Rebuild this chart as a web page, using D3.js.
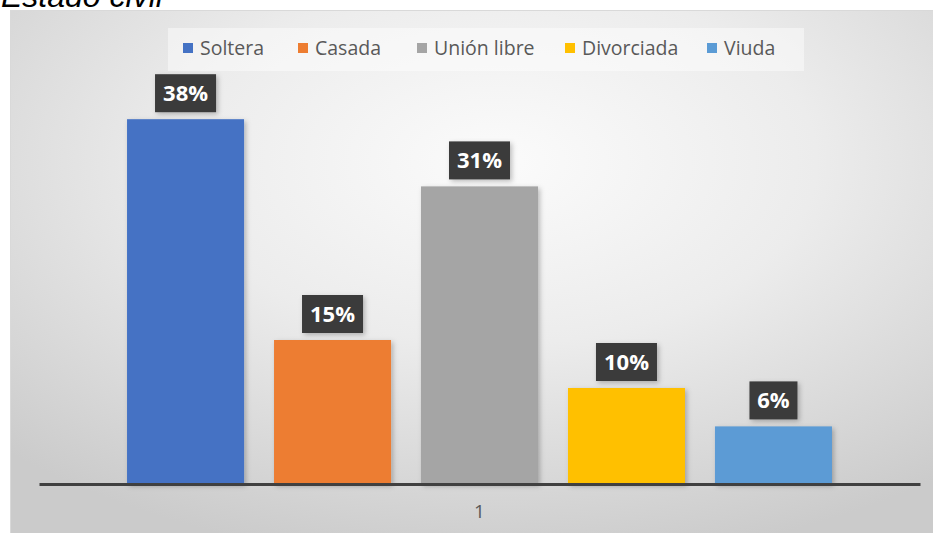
<!DOCTYPE html>
<html>
<head>
<meta charset="utf-8">
<script src="https://cdn.jsdelivr.net/npm/d3@7"></script>
<style>
  html, body { margin: 0; padding: 0; background: #ffffff; }
  svg { display: block; }
</style>
</head>
<body>
<svg id="chart" width="933" height="533"></svg>
<script>
// Estado civil — share of respondents by marital status
const categories = ["Soltera", "Casada", "Unión libre", "Divorciada", "Viuda"];
const values = [38, 15, 31, 10, 6];
const colors = ["#4472C4", "#ED7D31", "#A5A5A5", "#FFC000", "#5B9BD5"];
const axisLabels = ["1"];

const svg = d3.select("#chart");
const defs = svg.append("defs");

// soft radial backdrop for the plot frame
const grad = defs.append("radialGradient")
  .attr("id", "bg").attr("cx", "52%").attr("cy", "28%").attr("r", "75%");
grad.append("stop").attr("offset", "0%").attr("stop-color", "#fbfbfb");
grad.append("stop").attr("offset", "45%").attr("stop-color", "#ececec");
grad.append("stop").attr("offset", "100%").attr("stop-color", "#cbcbcb");

const shadow = defs.append("filter").attr("id", "shadow")
  .attr("x", "-20%").attr("y", "-20%").attr("width", "140%").attr("height", "140%");
shadow.append("feDropShadow").attr("dx", 2).attr("dy", 2).attr("stdDeviation", 2.5)
  .attr("flood-color", "#000").attr("flood-opacity", 0.25);

// title (partly above the page top)
svg.append("text")
  .attr("x", 1).attr("y", 7)
  .attr("font-family", "Liberation Sans, Arial, sans-serif")
  .attr("font-style", "italic")
  .attr("font-size", 32)
  .attr("fill", "#000")
  .text("Estado civil");

// chart frame
svg.append("rect")
  .attr("x", 10.5).attr("y", 10.5).attr("width", 940).attr("height", 540)
  .attr("fill", "url(#bg)").attr("stroke", "#d9d9d9").attr("stroke-width", 1);

// legend backdrop
svg.append("rect")
  .attr("x", 168).attr("y", 28).attr("width", 636).attr("height", 43)
  .attr("fill", "#ffffff").attr("opacity", 0.45);

// scales
const x = d3.scaleBand().domain(categories).range([39, 920])
  .paddingInner(0.204).paddingOuter(0.599);
const y = d3.scaleLinear().domain([0, 40]).range([484, 100]);

// bars
svg.append("g").selectAll("rect").data(categories).join("rect")
  .attr("x", d => x(d))
  .attr("y", (d, i) => y(values[i]))
  .attr("width", x.bandwidth())
  .attr("height", (d, i) => y(0) - y(values[i]))
  .attr("fill", (d, i) => colors[i])
  .attr("filter", "url(#shadow)");

// category axis
const axis = d3.axisBottom(x.copy().domain(axisLabels).range([39, 920]).padding(0))
  .tickSize(0).tickPadding(21);
const gAxis = svg.append("g").attr("transform", `translate(0,${y(0)})`).call(axis);
gAxis.select(".domain").attr("stroke", "#404040").attr("stroke-width", 3);
gAxis.selectAll("text")
  .attr("font-family", "Open Sans, sans-serif")
  .attr("font-size", 19)
  .attr("fill", "#595959");

// value labels in dark callout boxes
const labels = svg.append("g").selectAll("g").data(categories).join("g")
  .attr("transform", (d, i) => `translate(${x(d) + x.bandwidth() / 2},${y(values[i]) - 7})`);
labels.append("rect")
  .attr("x", (d, i) => -(String(values[i]).length === 1 ? 24 : 30.5))
  .attr("y", -38)
  .attr("width", (d, i) => String(values[i]).length === 1 ? 48 : 61)
  .attr("height", 38)
  .attr("fill", "#3b3b3b")
  .attr("filter", "url(#shadow)");
labels.append("text")
  .attr("x", 0).attr("y", -11)
  .attr("text-anchor", "middle")
  .attr("font-family", "Open Sans, sans-serif")
  .attr("font-weight", "bold")
  .attr("font-size", 22)
  .attr("fill", "#ffffff")
  .text((d, i) => values[i] + "%");

// legend
const legendX = [183, 298, 417, 565, 707];
const legend = svg.append("g").selectAll("g").data(categories).join("g")
  .attr("transform", (d, i) => `translate(${legendX[i]},43)`);
legend.append("rect")
  .attr("width", 10).attr("height", 10)
  .attr("fill", (d, i) => colors[i]);
legend.append("text")
  .attr("x", 17).attr("y", 12)
  .attr("font-family", "Open Sans, sans-serif")
  .attr("font-size", 19.5)
  .attr("fill", "#595959")
  .text(d => d);
</script>
</body>
</html>
